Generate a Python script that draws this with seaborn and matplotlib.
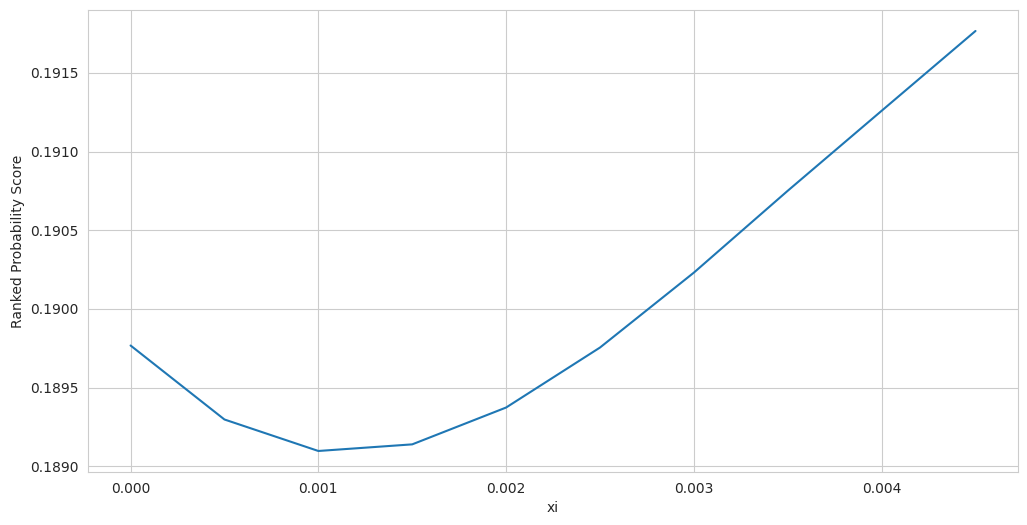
import matplotlib
matplotlib.use("Agg")
import matplotlib.pyplot as plt
import pandas as pd
import seaborn as sns

xi = [0.0, 0.0005, 0.001, 0.0015, 0.002, 0.0025, 0.003, 0.0035, 0.004, 0.0045]
rps = [0.189768, 0.189298, 0.189098, 0.189140, 0.189374, 0.189755,
       0.190231, 0.190751, 0.191259, 0.191766]

df = pd.DataFrame({"xi": xi, "Ranked Probability Score": rps})

sns.set_style("whitegrid")
fig, ax = plt.subplots(figsize=(10.27, 5.25), dpi=100)
sns.lineplot(data=df, x="xi", y="Ranked Probability Score", ax=ax)

ax.set_xticks([0.000, 0.001, 0.002, 0.003, 0.004])
ax.set_xticklabels(["0.000", "0.001", "0.002", "0.003", "0.004"])
ax.set_yticks([0.1890, 0.1895, 0.1900, 0.1905, 0.1910, 0.1915])
ax.set_yticklabels(["0.1890", "0.1895", "0.1900", "0.1905", "0.1910", "0.1915"])

fig.subplots_adjust(left=0.086, right=0.991, top=0.981, bottom=0.101)
fig.savefig("out.png", dpi=100)
plt.close(fig)
